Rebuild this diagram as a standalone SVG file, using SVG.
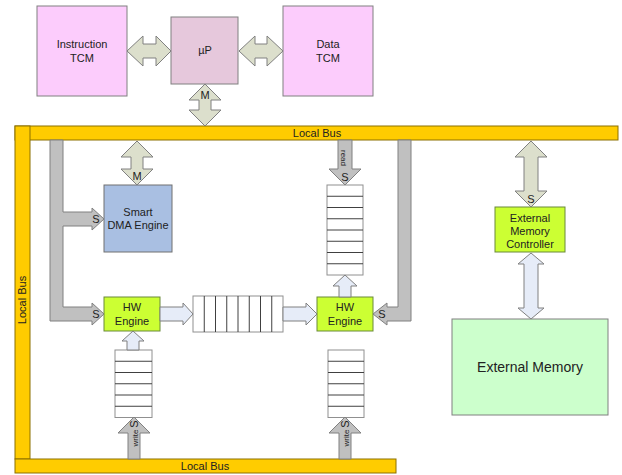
<svg xmlns="http://www.w3.org/2000/svg" width="622" height="475" viewBox="0 0 622 475">
<style>
text{font-family:"Liberation Sans",Arial,sans-serif;font-size:11px;fill:#222;text-anchor:middle}
.bus{fill:#ffcc00;stroke:#8c7000;stroke-width:1}
.tcm{fill:#fcccfc;stroke:#808080}
.up{fill:#e6c8dc;stroke:#808080}
.dma{fill:#a9bfe2;stroke:#707070}
.hw{fill:#ccff33;stroke:#6a8a3a}
.mem{fill:#ccffcc;stroke:#808080}
.q{fill:#fff;stroke:#909090}
.qd{stroke:#404040;stroke-width:1}
.tan{fill:#dcdfcc;stroke:#808080}
.gray{fill:#c0c0c0;stroke:#808080}
.blue{fill:#e6ecf8;stroke:#808080}
</style>
<g id="bus-top"><rect class="bus" x="15" y="126" width="603" height="14"/><text x="317" y="137">Local Bus</text></g>
<g id="bus-left"><rect class="bus" x="15" y="126" width="15" height="333"/><text transform="translate(26,300) rotate(-90)">Local Bus</text></g>
<g id="bus-bottom"><rect class="bus" x="15" y="459" width="381" height="14"/><text x="205" y="470">Local Bus</text></g>
<g id="itcm"><rect class="tcm" x="37" y="6" width="90" height="90"/><text x="82" y="48">Instruction</text><text x="82" y="62">TCM</text></g>
<g id="up"><rect class="up" x="171" y="17" width="67" height="67"/><text x="205" y="54">µP</text></g>
<g id="dtcm"><rect class="tcm" x="283" y="6" width="90" height="90"/><text x="328" y="48">Data</text><text x="328" y="62">TCM</text></g>
<g id="dma"><rect class="dma" x="104" y="185" width="68" height="67"/><text x="138" y="216">Smart</text><text x="138" y="229">DMA Engine</text></g>
<g id="hw1"><rect class="hw" x="104" y="297" width="56" height="34"/><text x="132" y="311">HW</text><text x="132" y="325">Engine</text></g>
<g id="hw2"><rect class="hw" x="317" y="297" width="56" height="34"/><text x="345" y="311">HW</text><text x="345" y="325">Engine</text></g>
<g id="emc"><rect class="hw" x="495" y="207" width="70" height="45"/><text x="530" y="222">External</text><text x="530" y="235">Memory</text><text x="530" y="248">Controller</text></g>
<g id="extmem"><rect class="mem" x="452" y="319" width="156" height="96"/><text x="530" y="372" style="font-size:14px">External Memory</text></g>
<g id="queue-h"><rect class="q" x="193" y="296" width="90" height="36"/>
<path class="qd" d="M204.25,296V332M215.5,296V332M226.75,296V332M238,296V332M249.25,296V332M260.5,296V332M271.75,296V332"/></g>
<g id="queue-read"><rect class="q" x="327" y="185" width="36" height="90"/>
<path class="qd" d="M327,196.25H363M327,207.5H363M327,218.75H363M327,230H363M327,241.25H363M327,252.5H363M327,263.75H363"/></g>
<g id="queue-w1"><rect class="q" x="115" y="350" width="37" height="67.5"/>
<path class="qd" d="M115,361.25H152M115,372.5H152M115,383.75H152M115,395H152M115,406.25H152"/></g>
<g id="queue-w2"><rect class="q" x="328" y="350" width="36" height="67.5"/>
<path class="qd" d="M328,361.25H364M328,372.5H364M328,383.75H364M328,395H364M328,406.25H364"/></g>
<g id="connectors">
<path class="tan" d="M127,51L143,36L143,44L156,44L156,36L171,51L156,66L156,58L143,58L143,66Z"/>
<path class="tan" d="M239,51L255,36L255,44L267,44L267,36L283,51L267,66L267,58L255,58L255,66Z"/>
<path class="tan" d="M205,84L221,100L211,100L211,110L221,110L205,126L189,110L199,110L199,100L189,100Z"/>
<text x="205" y="99">M</text>
<path class="tan" d="M137,141L153,157L143,157L143,169L153,169L137,185L121,169L131,169L131,157L121,157Z"/>
<text x="137" y="180">M</text>
<path class="tan" d="M531,141L547,157L538,157L538,191L547,191L531,207L515,191L524,191L524,157L515,157Z"/>
<text x="531" y="203">S</text>
<path class="blue" d="M531,253L544,264L538,264L538,308L544,308L531,319L518,308L524,308L524,264L518,264Z"/>
<path class="gray" d="M50,140L63,140L63,212L92,212L92,208L104,219L92,230L92,226L63,226L63,307L92,307L92,303L104,314L92,325L92,321L50,321Z"/>
<text x="96" y="223">S</text>
<text x="96" y="318">S</text>
<path class="gray" d="M398,140L411,140L411,321L387,321L387,325L373,314L387,303L387,307L398,307Z"/>
<text x="382" y="318">S</text>
<path class="gray" d="M338,140L352,140L352,169L361,169L345,185L329,169L338,169Z"/>
<text transform="translate(341,158) rotate(90)" style="font-size:8px">read</text>
<text x="345" y="181">S</text>
<path class="gray" d="M128,459L128,433L118,433L134,417L150,433L140,433L140,459Z"/>
<text transform="translate(138,438) rotate(-90)" style="font-size:8px">write</text>
<text transform="translate(138,424) rotate(-90)">S</text>
<path class="gray" d="M339,459L339,433L329,433L345,417L361,433L351,433L351,459Z"/>
<text transform="translate(349,438) rotate(-90)" style="font-size:8px">write</text>
<text transform="translate(349,424) rotate(-90)">S</text>
<path class="blue" d="M160,307L183,307L183,303L193,314L183,325L183,321L160,321Z"/>
<path class="blue" d="M283,307L306,307L306,303L317,314L306,325L306,321L283,321Z"/>
<path class="blue" d="M339,297L339,286L333,286L345,275L357,286L351,286L351,297Z"/>
<path class="blue" d="M127,350L127,341L122,341L133,331L144,341L139,341L139,350Z"/>
</g>
</svg>
